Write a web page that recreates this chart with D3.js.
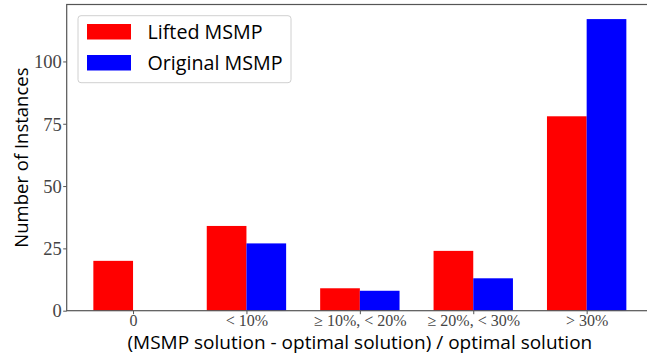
<!DOCTYPE html>
<html><head><meta charset="utf-8">
<script src="https://cdn.jsdelivr.net/npm/d3@7"></script>
<style>html,body{margin:0;padding:0;background:#fff;}svg{display:block;}</style>
</head><body>
<svg id="chart" width="647" height="360"></svg>
<script>
const categories = ["0", "< 10%", "≥ 10%, < 20%", "≥ 20%, < 30%", "> 30%"];
const liftedValues = [20, 34, 9, 24, 78];
const originalValues = [0, 27, 8, 13, 117];
const yTickValues = [0, 25, 50, 75, 100];
const seriesNames = ["Lifted MSMP", "Original MSMP"];
const seriesColors = ["#ff0000", "#0000ff"];

(function () {
const svg = d3.select("#chart");
const pLeft = 66.7, pRight = 653, pTop = 4.5, pBottom = 310.7;
const barW = 0.35;
const x = d3.scaleLinear().domain([-0.585, categories.length - 1 + 0.585]).range([pLeft, pRight]);
const y = d3.scaleLinear().domain([0, 122.85]).range([pBottom, pTop]);

const serifFont = "'Liberation Serif', 'DejaVu Serif', serif";
const sansFont = "'Open Sans', 'Noto Sans', sans-serif";

const series = [liftedValues, originalValues];
series.forEach((vals, s) => {
  svg.append("g").selectAll("rect").data(vals).join("rect")
    .attr("x", (d, i) => x(i + (s === 0 ? -barW : 0)))
    .attr("width", (d, i) => x(i + barW) - x(i))
    .attr("y", d => y(d))
    .attr("height", d => y(0) - y(d))
    .attr("fill", seriesColors[s]);
});

const xAxis = d3.axisBottom(x).tickValues(d3.range(categories.length)).tickFormat(i => categories[i]).tickSize(3.5).tickSizeOuter(0);
const gx = svg.append("g").attr("transform", `translate(0,${pBottom})`).call(xAxis);
gx.select(".domain").remove();
gx.selectAll(".tick line").attr("stroke", "#555");
gx.selectAll(".tick text").attr("font-family", serifFont).attr("font-size", 16).attr("fill", "#444").attr("dy", null).attr("y", 15.5);

const yAxis = d3.axisLeft(y).tickValues(yTickValues).tickSize(3.5).tickSizeOuter(0);
const gy = svg.append("g").attr("transform", `translate(${pLeft},0)`).call(yAxis);
gy.select(".domain").remove();
gy.selectAll(".tick line").attr("stroke", "#555");
gy.selectAll(".tick text").attr("font-family", serifFont).attr("font-size", 18.5).attr("fill", "#444").attr("x", -5).attr("dy", "0.34em");

svg.append("rect").attr("x", pLeft).attr("y", pTop).attr("width", pRight - pLeft).attr("height", pBottom - pTop)
  .attr("fill", "none").attr("stroke", "#555").attr("stroke-width", 1.2);

svg.append("text").attr("x", (pLeft + pRight) / 2).attr("y", 348.5).attr("text-anchor", "middle")
  .attr("font-family", sansFont).attr("font-size", 19).attr("fill", "#000")
  .text("(MSMP solution - optimal solution) / optimal solution");
svg.append("text").attr("transform", `translate(27.5,${(pTop + pBottom) / 2}) rotate(-90)`).attr("text-anchor", "middle")
  .attr("font-family", sansFont).attr("font-size", 18.5).attr("fill", "#000")
  .text("Number of Instances");

const lg = svg.append("g");
lg.append("rect").attr("x", 78).attr("y", 15.7).attr("width", 213).attr("height", 67).attr("rx", 3)
  .attr("fill", "#fff").attr("fill-opacity", 0.8).attr("stroke", "#d0d0d0").attr("stroke-width", 1);
seriesNames.forEach((name, i) => {
  const yy = 24 + i * 31;
  lg.append("rect").attr("x", 87).attr("y", yy).attr("width", 44).attr("height", 15.5).attr("fill", seriesColors[i]);
  lg.append("text").attr("x", 147.5).attr("y", yy + 15.3).attr("font-family", sansFont).attr("font-size", 19.7).attr("fill", "#000").text(name);
});
})();
</script>
</body></html>
